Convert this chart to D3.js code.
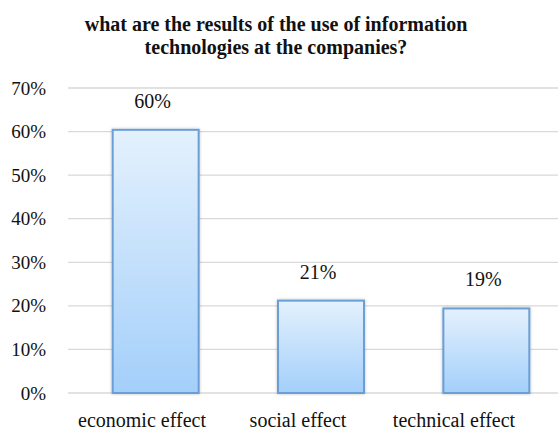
<!DOCTYPE html>
<html><head><meta charset="utf-8">
<script src="https://cdn.jsdelivr.net/npm/d3@7"></script>
<style>body{margin:0;background:#fff}</style>
</head><body>
<svg id="c" width="560" height="437" font-family="Liberation Serif"></svg>
<script>
const categories = ["economic effect", "social effect", "technical effect"];
const values = [60.4, 21.2, 19.4];
const valueLabels = ["60%", "21%", "19%"];
const yTicks = [0, 10, 20, 30, 40, 50, 60, 70];
const titleLines = ["what are the results of the use of information", "technologies at the companies?"];

const FONT = "Liberation Serif";
const svg = d3.select("#c");
const y = d3.scaleLinear().domain([0, 70]).range([393, 88]);
const x = d3.scaleBand().domain(categories).range([73, 569]).paddingInner(0.48).paddingOuter(0.24);
const xl = d3.scaleBand().domain(categories).range([64, 532]);

const defs = svg.append("defs");
const g = defs.append("linearGradient").attr("id", "bg").attr("x1", 0).attr("y1", 0).attr("x2", 0).attr("y2", 1);
g.append("stop").attr("offset", "0%").attr("stop-color", "#e4f1fd");
g.append("stop").attr("offset", "100%").attr("stop-color", "#a3cffa");
const f = defs.append("filter").attr("id", "sh").attr("x", "-20%").attr("y", "-20%").attr("width", "140%").attr("height", "140%");
f.append("feDropShadow").attr("dx", 0).attr("dy", 0).attr("stdDeviation", 1.5).attr("flood-color", "#000").attr("flood-opacity", 0.25);

svg.selectAll("text.t").data(titleLines).join("text")
  .attr("class", "t")
  .attr("x", 276).attr("y", (d, i) => 31 + i * 23)
  .attr("text-anchor", "middle").attr("font-weight", "bold").attr("font-family", FONT)
  .attr("font-size", 20).attr("fill", "#111").text(d => d);

const yAxis = d3.axisLeft(y).tickValues(yTicks).tickFormat(d => d + "%").tickSize(0);
const ga = svg.append("g").attr("transform", "translate(46,0)").call(yAxis);
ga.attr("font-family", FONT).attr("font-size", 19);
ga.select(".domain").remove();
ga.selectAll("text").attr("fill", "#111").attr("x", 0);

svg.append("g").selectAll("line").data(yTicks).join("line")
  .attr("x1", 68).attr("x2", 558).attr("y1", d => y(d)).attr("y2", d => y(d))
  .attr("stroke", "#d9d9d9").attr("stroke-width", 1.3);

svg.append("g").selectAll("rect").data(values).join("rect")
  .attr("x", (d, i) => x(categories[i])).attr("width", x.bandwidth())
  .attr("y", d => y(d)).attr("height", d => y(0) - y(d))
  .attr("fill", "url(#bg)").attr("stroke", "#6a9ed6").attr("stroke-width", 2)
  .attr("filter", "url(#sh)");

svg.append("g").attr("font-family", FONT).attr("font-size", 20).selectAll("text").data(values).join("text")
  .attr("x", (d, i) => x(categories[i]) + x.bandwidth() / 2 - 3).attr("y", d => y(d) - 22)
  .attr("text-anchor", "middle").attr("fill", "#111")
  .text((d, i) => valueLabels[i]);

const xAxis = d3.axisBottom(xl).tickSize(0);
const gx = svg.append("g").attr("transform", "translate(0,410)").call(xAxis);
gx.attr("font-family", FONT).attr("font-size", 20);
gx.select(".domain").remove();
gx.selectAll("text").attr("fill", "#111").attr("dy", "0.71em");
</script>
</body></html>
